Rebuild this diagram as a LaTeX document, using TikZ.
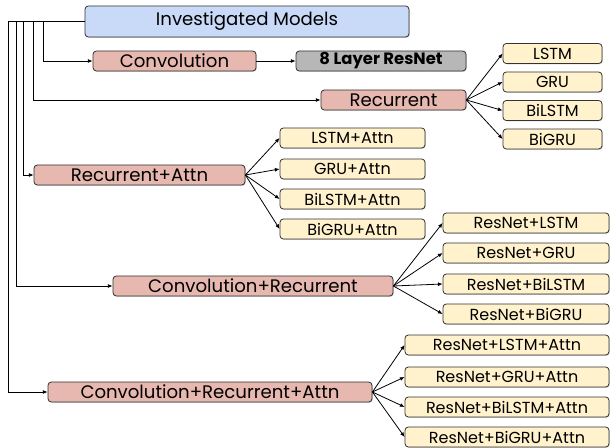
\documentclass[tikz,border=0pt]{standalone}
\usepackage{fontspec}
\setmainfont{Poppins}
\usetikzlibrary{arrows.meta,shadows}

\definecolor{topblue}{RGB}{201,218,248}
\definecolor{groupred}{RGB}{230,184,175}
\definecolor{leafyellow}{RGB}{255,242,204}
\definecolor{resgray}{RGB}{183,183,183}
\definecolor{edgegray}{RGB}{51,51,51}

\tikzset{every picture/.style={line width=0.6pt}}
\tikzset{
  box/.style={draw=edgegray, rounded corners=2.5pt, inner sep=0pt, minimum height=15pt,
    drop shadow={shadow xshift=0.6pt, shadow yshift=-0.6pt, fill=black!35}},
  rootbox/.style={box, fill=topblue, minimum height=23.25pt, font=\fontsize{13.6}{15}\selectfont},
  groupbox/.style={box, fill=groupred, font=\fontsize{13.6}{15}\selectfont},
  leafbox/.style={box, fill=leafyellow, font=\fontsize{12}{13}\selectfont},
  netbox/.style={box, fill=resgray, font=\fontsize{12.3}{13}\selectfont\bfseries},
  conn/.style={draw=black, line width=0.6pt, -{Latex[length=3.5pt,width=3pt]}},
}

\begin{document}
\begin{tikzpicture}[x=0.75pt,y=0.75pt,yscale=-1,xscale=1]
	\useasboundingbox (0,0) rectangle (610,448);
	
	%Root
	\node [rootbox, minimum width=243pt] (models) at (247,21.5) {Investigated Models};
	
	%Convolution branch
	\node [groupbox, minimum width=122.25pt] (conv) at (174.5,61) {Convolution};
	\node [netbox, minimum width=127.5pt] (resnet) at (381,61) {8 Layer ResNet};
	
	%Recurrent branch
	\node [groupbox, minimum width=108.75pt] (rec) at (393.5,100) {Recurrent};
	\node [leafbox, minimum width=74.25pt] (lstm) at (552.5,53.5) {LSTM};
	\node [leafbox, minimum width=74.25pt] (gru) at (552.5,82) {GRU};
	\node [leafbox, minimum width=74.25pt] (bilstm) at (552.5,110.5) {BiLSTM};
	\node [leafbox, minimum width=74.25pt] (bigru) at (552.5,139) {BiGRU};
	
	%Recurrent+Attn branch
	\node [groupbox, minimum width=158.25pt] (recattn) at (139.5,175) {Recurrent+Attn};
	\node [leafbox, minimum width=108.75pt] (lstmattn) at (352.5,138) {LSTM+Attn};
	\node [leafbox, minimum width=108.75pt] (gruattn) at (352.5,169) {GRU+Attn};
	\node [leafbox, minimum width=108.75pt] (bilstmattn) at (352.5,199) {BiLSTM+Attn};
	\node [leafbox, minimum width=108.75pt] (bigruattn) at (352.5,229) {BiGRU+Attn};
	
	%Convolution+Recurrent branch
	\node [groupbox, minimum width=210pt] (convrec) at (253,286) {Convolution+Recurrent};
	\node [leafbox, minimum width=124.5pt] (rlstm) at (526,223) {ResNet+LSTM};
	\node [leafbox, minimum width=124.5pt] (rgru) at (526,253) {ResNet+GRU};
	\node [leafbox, minimum width=124.5pt] (rbilstm) at (526,284) {ResNet+BiLSTM};
	\node [leafbox, minimum width=124.5pt] (rbigru) at (526,314) {ResNet+BiGRU};
	
	%Convolution+Recurrent+Attn branch
	\node [groupbox, minimum width=243pt] (convrecattn) at (210,392) {Convolution+Recurrent+Attn};
	\node [leafbox, minimum width=153pt] (rlstmattn) at (507,345) {ResNet+LSTM+Attn};
	\node [leafbox, minimum width=153pt] (rgruattn) at (507,377) {ResNet+GRU+Attn};
	\node [leafbox, minimum width=153pt] (rbilstmattn) at (507,407) {ResNet+BiLSTM+Attn};
	\node [leafbox, minimum width=153pt] (rbigruattn) at (507,437) {ResNet+BiGRU+Attn};
	
	% Trunk
	\draw [conn] (models.west) -- ++(-41,0) |- (conv.west);
	\draw [conn] (models.west) -- ++(-51,0) |- (rec.west);
	\draw [conn] (models.west) -- ++(-61,0) |- (recattn.west);
	\draw [conn] (models.west) -- ++(-68,0) |- (convrec.west);
	\draw [conn] (models.west) -- ++(-76,0) |- (convrecattn.west);
	
	% Connections
	\draw [conn] (conv.east) -- (resnet.west);
	\foreach \leaf in {lstm,gru,bilstm,bigru}
		\draw [conn] (rec.east) -- (\leaf.west);
	\foreach \leaf in {lstmattn,gruattn,bilstmattn,bigruattn}
		\draw [conn] (recattn.east) -- (\leaf.west);
	\foreach \leaf in {rlstm,rgru,rbilstm,rbigru}
		\draw [conn] (convrec.east) -- (\leaf.west);
	\foreach \leaf in {rlstmattn,rgruattn,rbilstmattn,rbigruattn}
		\draw [conn] (convrecattn.east) -- (\leaf.west);
	
\end{tikzpicture}
\end{document}
